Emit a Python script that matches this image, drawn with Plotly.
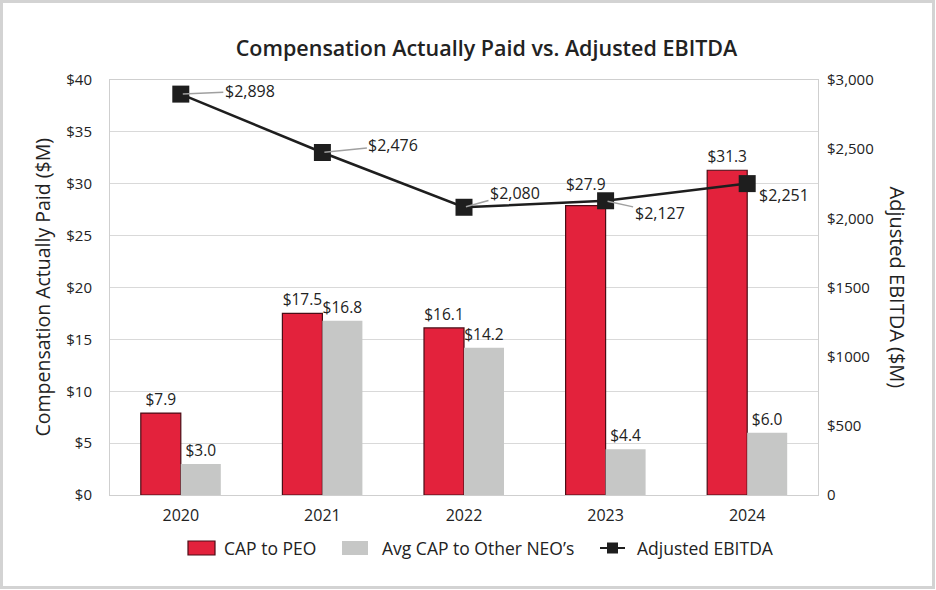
import plotly.graph_objects as go

years = ["2020", "2021", "2022", "2023", "2024"]
cap_peo = [7.9, 17.5, 16.1, 27.9, 31.3]
cap_neo = [3.0, 16.8, 14.2, 4.4, 6.0]
ebitda = [2898, 2476, 2080, 2127, 2251]
ebitda_labels = ["$2,898", "$2,476", "$2,080", "$2,127", "$2,251"]
left_ticks = [0, 5, 10, 15, 20, 25, 30, 35, 40]
left_ticktext = ["$0", "$5", "$10", "$15", "$20", "$25", "$30", "$35", "$40"]
right_ticks = [0, 500, 1000, 1500, 2000, 2500, 3000]
right_ticktext = ["0", "$500", "$1000", "$1500", "$2,000", "$2,500", "$3,000"]
legend_names = ["CAP to PEO", "Avg CAP to Other NEO\u2019s", "Adjusted EBITDA"]

FONT = "Open Sans"
TXT = "#222222"
RED = "#e3223c"
RED_EDGE = "#4a0d16"
GRAY = "#c6c7c6"
LINE = "#1e1e1e"

# plot area in pixels
L, R, T, B = 110, 818, 80, 495
PW, PH = R - L, B - T
def px(x):
    return (x - L) / PW
def py(y):
    return (B - y) / PH

# red label text: hide the 2023 one (placed manually higher, as in the reference)
red_text = ["$%.1f" % v for v in cap_peo]
red_text[3] = ""

fig = go.Figure()
fig.add_trace(go.Bar(
    x=years, y=cap_peo, name=legend_names[0],
    marker=dict(color=RED, line=dict(color=RED_EDGE, width=1.2)),
    text=red_text, textposition="outside",
    textfont=dict(size=15.5, color=TXT, family=FONT), cliponaxis=False,
))
fig.add_trace(go.Bar(
    x=years, y=cap_neo, name=legend_names[1],
    marker=dict(color=GRAY, line=dict(width=0)),
    texttemplate="$%{y:.1f}", textposition="outside",
    textfont=dict(size=15.5, color=TXT, family=FONT), cliponaxis=False,
))
fig.add_trace(go.Scatter(
    x=years, y=ebitda, name=legend_names[2], yaxis="y2",
    mode="lines+markers",
    line=dict(color=LINE, width=2.5),
    marker=dict(symbol="square", size=17, color=LINE),
    cliponaxis=False,
))

fig.add_annotation(x=3, y=cap_peo[3], xref="x", yref="y", text="$%.1f" % cap_peo[3],
                   showarrow=False, xshift=-20, yshift=22, yanchor="middle",
                   font=dict(size=15.5, color=TXT, family=FONT))

# label offsets (pixels) for EBITDA values
offsets = [(69, -3, True), (71, -7, True), (51, -14, True), (54, 12, True), (37, 11, False)]
for i, (val, lab, (ax, ay, arrow)) in enumerate(zip(ebitda, ebitda_labels, offsets)):
    if arrow:
        fig.add_annotation(x=i, y=val, xref="x", yref="y2", text=lab,
                           showarrow=True, ax=ax, ay=ay, arrowhead=0,
                           arrowcolor="#a0a0a0", arrowwidth=1.5, standoff=2,
                           font=dict(size=16, color=TXT, family=FONT))
    else:
        fig.add_annotation(x=i, y=val, xref="x", yref="y2", text=lab,
                           showarrow=False, xshift=ax, yshift=-ay,
                           font=dict(size=16, color=TXT, family=FONT))

fig.add_annotation(x=px(42), y=0.5, xref="paper", yref="paper", xanchor="center",
                   text="Compensation Actually Paid ($M)", textangle=-90,
                   showarrow=False, font=dict(size=19.5, color=TXT, family=FONT))
fig.add_annotation(x=px(897), y=0.5, xref="paper", yref="paper", xanchor="center",
                   text="Adjusted EBITDA ($M)", textangle=90,
                   showarrow=False, font=dict(size=20, color=TXT, family=FONT))

# custom legend
LY = 548
fig.add_shape(type="rect", xref="paper", yref="paper",
              x0=px(188), x1=px(215), y0=py(555), y1=py(541),
              fillcolor=RED, line=dict(color=RED_EDGE, width=1.2))
fig.add_shape(type="rect", xref="paper", yref="paper",
              x0=px(342), x1=px(368), y0=py(555), y1=py(541),
              fillcolor=GRAY, line=dict(width=0))
fig.add_shape(type="line", xref="paper", yref="paper",
              x0=px(600), x1=px(625), y0=py(LY), y1=py(LY),
              line=dict(color=LINE, width=2))
fig.add_shape(type="rect", xref="paper", yref="paper",
              x0=px(607), x1=px(618), y0=py(553.5), y1=py(542.5),
              fillcolor=LINE, line=dict(width=0))
for xl, name in zip([222, 380, 635], legend_names):
    fig.add_annotation(x=px(xl), y=py(LY), xref="paper", yref="paper", xanchor="left",
                       yanchor="middle", text=name, showarrow=False,
                       font=dict(size=17.5, color=TXT, family=FONT))

# outer frame
fig.add_shape(type="rect", xref="paper", yref="paper",
              x0=px(1.5), x1=px(933.5), y0=py(587.5), y1=py(1.5),
              line=dict(color="#d3d3d3", width=3), layer="below")

fig.update_layout(
    width=936, height=590,
    margin=dict(l=L, r=936 - R, t=T, b=590 - B),
    paper_bgcolor="white", plot_bgcolor="white",
    font=dict(family=FONT, color=TXT),
    title=dict(text="Compensation Actually Paid vs. Adjusted EBITDA",
               x=px(478), xanchor="center", y=1 - 48 / 590, yanchor="middle",
               font=dict(size=21.5, color=TXT, family=FONT, weight=600)),
    barmode="group", bargap=0.435, bargroupgap=0,
    showlegend=False,
    xaxis=dict(type="category", range=[-0.5, 4.5], showline=True, linecolor="#cfcfcf",
               linewidth=1, mirror=True, ticks="", ticklabelstandoff=6,
               tickfont=dict(size=16, color=TXT, family=FONT)),
    yaxis=dict(range=[0, 40], tickvals=left_ticks, ticktext=left_ticktext,
               showgrid=True, gridcolor="#d9d9d9", gridwidth=1,
               showline=True, linecolor="#cfcfcf", linewidth=1, mirror=True,
               zeroline=False, ticks="", ticklabelstandoff=14,
               tickfont=dict(size=15, color=TXT, family=FONT)),
    yaxis2=dict(range=[0, 3000], tickvals=right_ticks, ticktext=right_ticktext,
                overlaying="y", side="right", showgrid=False, zeroline=False,
                ticks="", ticklabelstandoff=8,
                tickfont=dict(size=15, color=TXT, family=FONT)),
)

fig.write_html("out.html", config={"displayModeBar": False},
               post_script="document.body.style.margin='0';document.body.style.padding='0';")
